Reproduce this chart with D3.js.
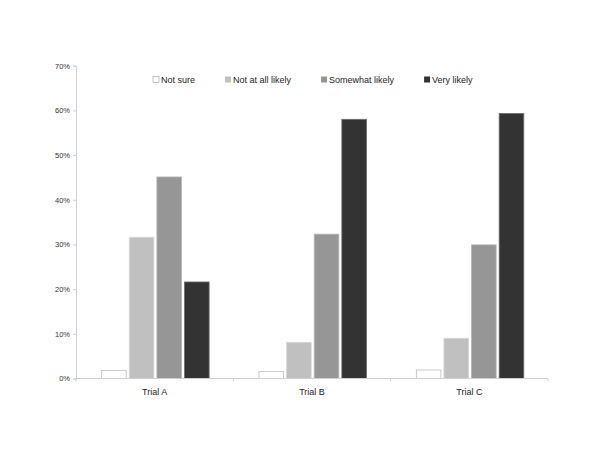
<!DOCTYPE html>
<html>
<head>
<meta charset="utf-8">
<script src="https://cdn.jsdelivr.net/npm/d3@7"></script>
<style>
  html, body { margin: 0; padding: 0; background: #fff; }
  svg { display: block; font-family: "Liberation Sans", Arial, Helvetica, sans-serif; }
</style>
</head>
<body>
<svg id="chart" width="600" height="464"></svg>
<script>
const categories = ["Trial A", "Trial B", "Trial C"];
const seriesNames = ["Not sure", "Not at all likely", "Somewhat likely", "Very likely"];
const notSure = [1.8, 1.6, 1.9];
const notAtAll = [31.6, 8.1, 9.0];
const somewhat = [45.1, 32.3, 29.9];
const veryLikely = [21.6, 58.0, 59.3];
const yTicks = [0, 10, 20, 30, 40, 50, 60, 70];

const seriesValues = [notSure, notAtAll, somewhat, veryLikely];
const fills = ["#ffffff", "#c0c0c0", "#969696", "#333333"];
const strokes = ["#bdbdbd", "#d6d6d6", "#b4b4b4", "#6a6a6a"];

const svg = d3.select("#chart");
const margin = { left: 76, right: 52, top: 65.7, bottom: 85.5 };
const W = 600, H = 464;
const innerW = W - margin.left - margin.right;
const innerH = H - margin.top - margin.bottom;

const g = svg.append("g").attr("transform", `translate(${margin.left},${margin.top})`);

const x0 = d3.scaleBand().domain(categories).range([0, innerW]).padding(0);
const bw = x0.bandwidth();
const x1 = d3.scaleBand().domain(seriesNames)
  .range([bw * 0.163, bw * 0.846]).paddingInner(0.11).paddingOuter(0);
const y = d3.scaleLinear().domain([0, 70]).range([innerH, 0]);

// Y axis
const yAxis = g.append("g").call(
  d3.axisLeft(y).tickValues(yTicks).tickSize(3).tickPadding(3).tickFormat(d => d + "%")
);
yAxis.select(".domain").attr("stroke", "#d0d0d0");
yAxis.selectAll(".tick line").attr("stroke", "#d0d0d0");
yAxis.selectAll(".tick text").attr("fill", "#333").style("font-size", "7.5px")
  .style("font-family", "'Liberation Sans', Arial, sans-serif");

// Bars
const groups = g.selectAll(".cat").data(categories).enter().append("g")
  .attr("transform", d => `translate(${x0(d)},0)`);
groups.each(function(cat, ci) {
  d3.select(this).selectAll("rect").data(seriesNames).enter().append("rect")
    .attr("x", s => x1(s))
    .attr("width", x1.bandwidth())
    .attr("y", (s, si) => y(seriesValues[si][ci]))
    .attr("height", (s, si) => innerH - y(seriesValues[si][ci]))
    .attr("fill", (s, si) => fills[si])
    .attr("stroke", (s, si) => strokes[si])
    .attr("stroke-width", 0.8);
});

// X axis
const xAxisG = g.append("g").attr("transform", `translate(0,${innerH})`);
xAxisG.append("line").attr("x1", 0).attr("x2", innerW).attr("y1", 0).attr("y2", 0)
  .attr("stroke", "#d0d0d0");
const boundaries = categories.map(c => x0(c)).concat([innerW]);
xAxisG.selectAll(".bt").data(boundaries).enter().append("line")
  .attr("x1", d => d).attr("x2", d => d).attr("y1", 0).attr("y2", 3)
  .attr("stroke", "#d0d0d0");
xAxisG.selectAll(".cl").data(categories).enter().append("text")
  .attr("x", d => x0(d) + bw / 2)
  .attr("y", 16.5)
  .attr("text-anchor", "middle")
  .attr("fill", "#222")
  .style("font-size", "9px")
  .text(d => d);

// Legend
const legend = svg.append("g").attr("transform", "translate(153,80)");
let lx = 0;
seriesNames.forEach((s, i) => {
  const item = legend.append("g").attr("transform", `translate(${lx},0)`);
  item.append("rect").attr("x", 0).attr("y", -3.5).attr("width", 6).attr("height", 6)
    .attr("fill", fills[i]).attr("stroke", i === 0 ? "#aaa" : "none").attr("stroke-width", 0.7);
  const t = item.append("text").attr("x", 8).attr("y", 3).attr("fill", "#222")
    .style("font-size", "9px").text(s);
  lx += 8 + t.node().getComputedTextLength() + 30;
});
</script>
</body>
</html>
